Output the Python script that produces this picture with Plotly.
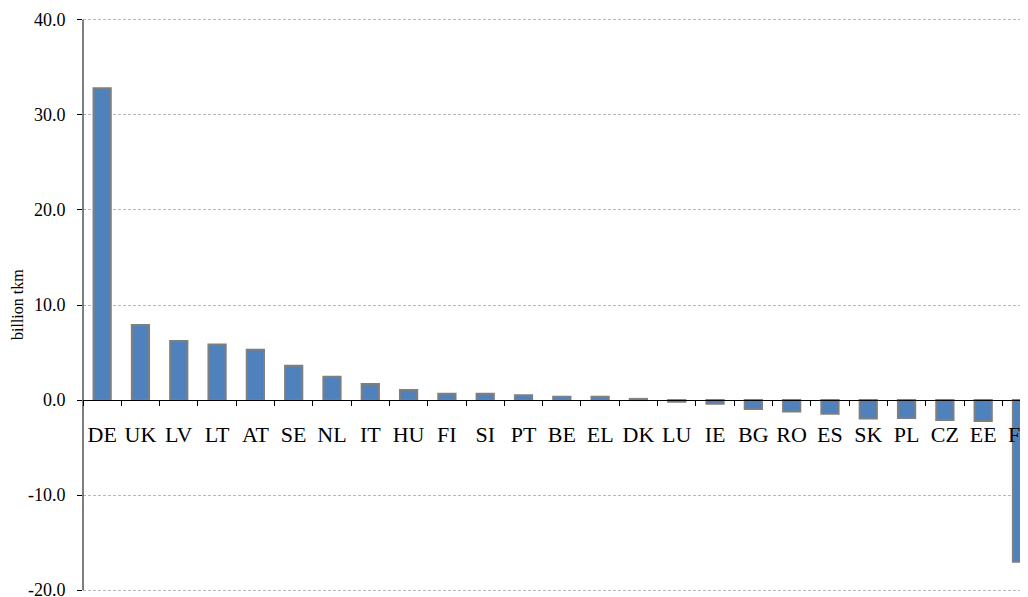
import plotly.graph_objects as go

countries = ["DE", "UK", "LV", "LT", "AT", "SE", "NL", "IT", "HU", "FI", "SI", "PT", "BE",
             "EL", "DK", "LU", "IE", "BG", "RO", "ES", "SK", "PL", "CZ", "EE", "FR"]
values = [32.8, 7.9, 6.2, 5.85, 5.3, 3.6, 2.45, 1.7, 1.05, 0.66, 0.66, 0.5, 0.35,
          0.35, 0.12, -0.18, -0.4, -0.95, -1.2, -1.45, -1.95, -1.9, -2.1, -2.2, -17.0]
y_tick_vals = [-20, -10, 0, 10, 20, 30, 40]
y_tick_text = ["-20.0", "-10.0", "0.0", "10.0", "20.0", "30.0", "40.0"]
y_title = "billion tkm"

serif = "Liberation Serif"

fig = go.Figure()
fig.add_trace(go.Bar(
    x=countries, y=values, width=0.45,
    marker=dict(color="#4f81bd", line=dict(color="#7f7f7f", width=2)),
))

# page body has an 8px margin, so the figure is offset by 8px
fig.update_layout(
    width=1020, height=589,
    margin=dict(l=75, r=0, t=9, b=4, autoexpand=False),
    paper_bgcolor="white", plot_bgcolor="white",
    showlegend=False,
    font=dict(family=serif, color="black"),
    xaxis=dict(
        type="category",
        range=[-0.5, 24.17],
        anchor="free", position=20.3 / 60.6,
        showline=True, linecolor="black", linewidth=1,
        ticks="outside", tickson="boundaries", ticklen=5, tickcolor="black",
        showgrid=False, zeroline=False,
        tickangle=0,
        tickfont=dict(family=serif, size=22, color="black"),
        ticklabelstandoff=15,
        ticklabeloverflow="allow",
        automargin=False,
    ),
    yaxis=dict(
        range=[-20.3, 40.3],
        tickvals=y_tick_vals, ticktext=y_tick_text,
        showline=False,
        ticks="outside", ticklen=5, tickcolor="black",
        showgrid=True, gridcolor="#b8b8b8", gridwidth=1, griddash="3px,2px",
        zeroline=False,
        tickfont=dict(family=serif, size=18, color="black"),
        ticklabelstandoff=8,
        ticklabeloverflow="allow",
        automargin=False,
    ),
    shapes=[dict(
        type="line", xref="paper", yref="y", x0=0, x1=0, y0=-20, y1=40,
        line=dict(color="black", width=1), layer="above",
    )],
    annotations=[dict(
        text=y_title, textangle=-90, xref="paper", yref="paper",
        x=(17 - 83) / 945, y=0.5, xanchor="center", yanchor="middle",
        showarrow=False, font=dict(family=serif, size=16, color="black"),
    )],
)

fig.write_html("out.html")
